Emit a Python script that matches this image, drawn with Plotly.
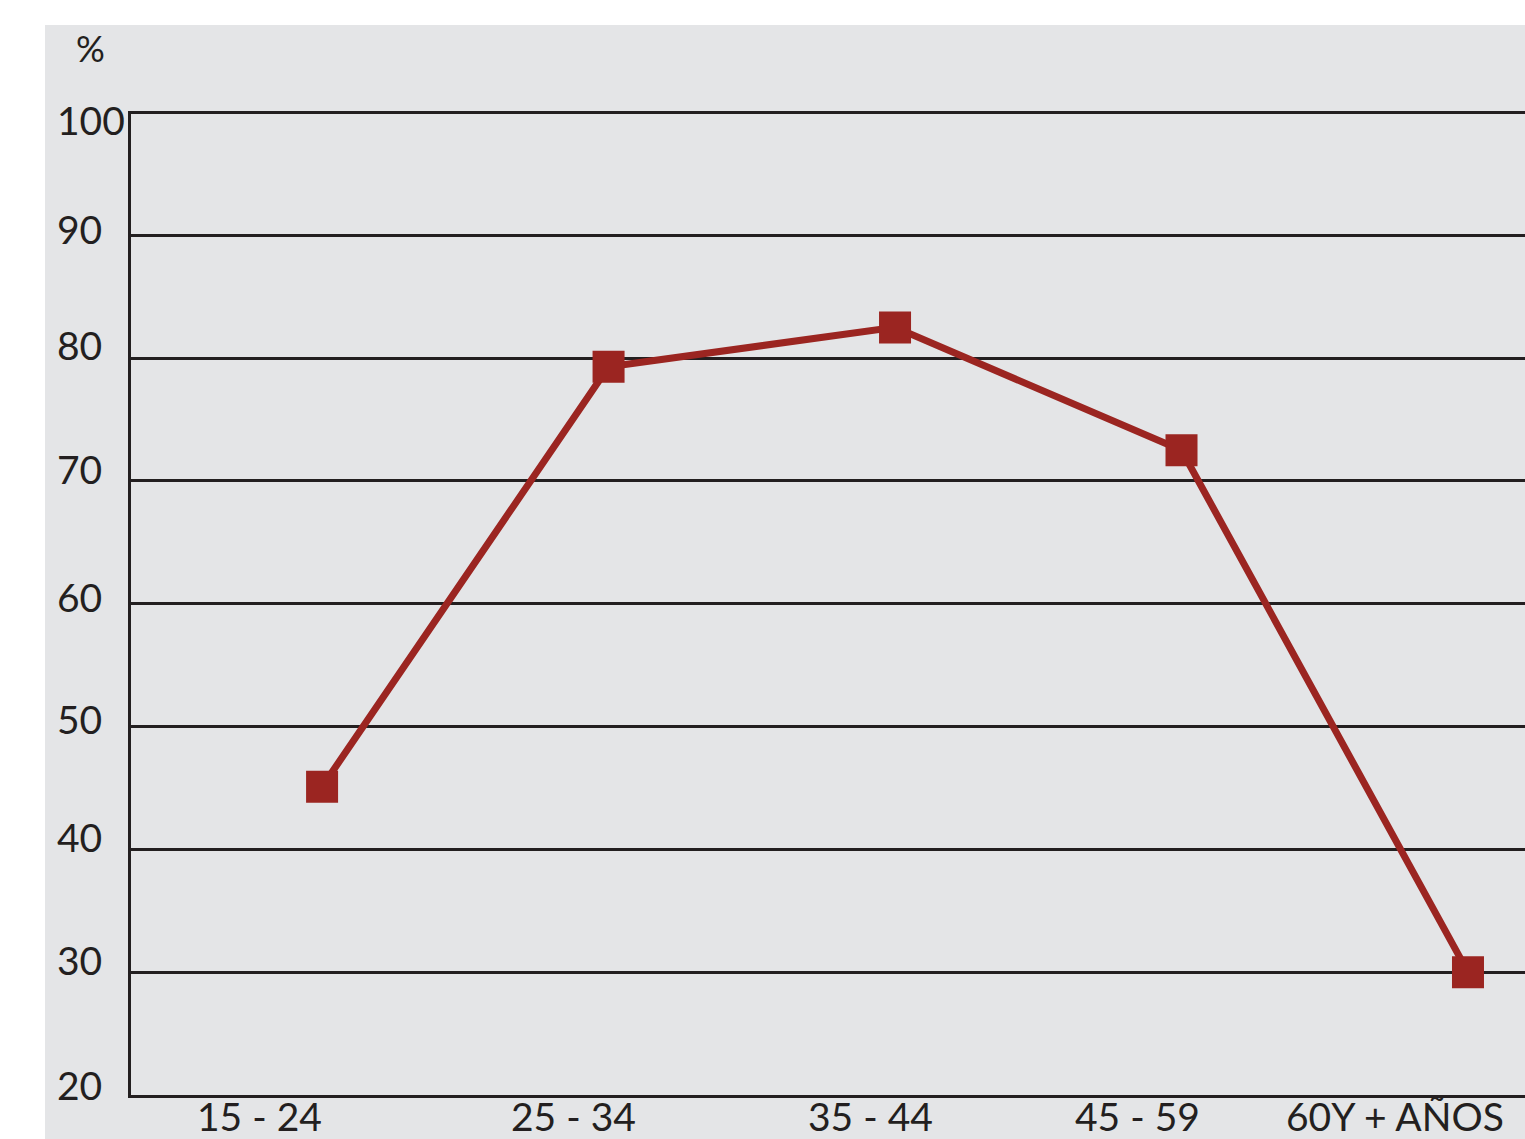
import plotly.graph_objects as go

# Data
categories = ["15 - 24", "25 - 34", "35 - 44", "45 - 59", "60Y + AÑOS"]
values = [45.1, 79.3, 82.5, 72.5, 30.0]
y_ticks = [20, 30, 40, 50, 60, 70, 80, 90, 100]

# Style / layout
RED = "#9B2521"
INK = "#231F20"
BG = "#E4E5E7"
FONT = "Lato"
W, H = 1525, 1139
ML, MR, MT, MB = 131, 0, 111, 44
PW, PH = W - ML - MR, H - MT - MB
label_offsets = [-0.22, -0.122, -0.084, -0.154, -0.255]
y_label_shift = {100: -8, 90: 6, 80: 13, 70: 12, 60: 7, 50: 8, 40: 12, 30: 12, 20: 10}

xs = list(range(len(categories)))

fig = go.Figure()
fig.add_trace(go.Scatter(
    x=xs, y=values, mode="lines+markers",
    line=dict(color=RED, width=7),
    marker=dict(symbol="square", size=32, color=RED),
    showlegend=False, hoverinfo="skip", cliponaxis=False,
))

annotations = []
for t in y_ticks:
    annotations.append(dict(
        x=(55 - ML) / PW, xref="paper", y=t, yref="y",
        text=str(t), showarrow=False, xanchor="left", yanchor="middle",
        yshift=y_label_shift.get(t, 0),
        font=dict(family=FONT, size=39, color=INK),
    ))
for i, (c, o) in enumerate(zip(categories, label_offsets)):
    annotations.append(dict(
        x=i + o, xref="x", y=-(1116 - (H - MB)) / PH, yref="paper",
        text=c, showarrow=False, xanchor="center", yanchor="middle",
        font=dict(family=FONT, size=39, color=INK),
    ))
annotations.append(dict(
    x=(90 - ML) / PW, xref="paper", y=(H - MB - 48) / PH, yref="paper",
    text="%", showarrow=False, xanchor="center", yanchor="middle",
    font=dict(family=FONT, size=36, color=INK),
))

fig.update_layout(
    width=W, height=H,
    margin=dict(l=ML, r=MR, t=MT, b=MB, pad=0),
    paper_bgcolor="white", plot_bgcolor=BG,
    font=dict(family=FONT, color=INK),
    shapes=[dict(
        type="rect", xref="paper", yref="paper", layer="below",
        x0=(45 - ML) / PW, x1=1.05, y0=-0.2, y1=(H - MB - 25) / PH,
        fillcolor=BG, line=dict(width=0),
    )],
    annotations=annotations,
)

fig.update_xaxes(
    range=[-0.667, 4.199], showgrid=False, zeroline=False,
    showline=True, linecolor=INK, linewidth=2.5,
    showticklabels=False, ticks="", automargin=False,
)
fig.update_yaxes(
    range=[20, 100.12], tickvals=y_ticks, showticklabels=False,
    showgrid=True, gridcolor=INK, gridwidth=2.5, zeroline=False,
    showline=True, linecolor=INK, linewidth=2.5,
    ticks="", automargin=False,
)

fig.write_html(
    "out.html",
    config={"displayModeBar": False},
    post_script="document.body.style.margin='0';document.body.style.overflow='hidden';",
)
